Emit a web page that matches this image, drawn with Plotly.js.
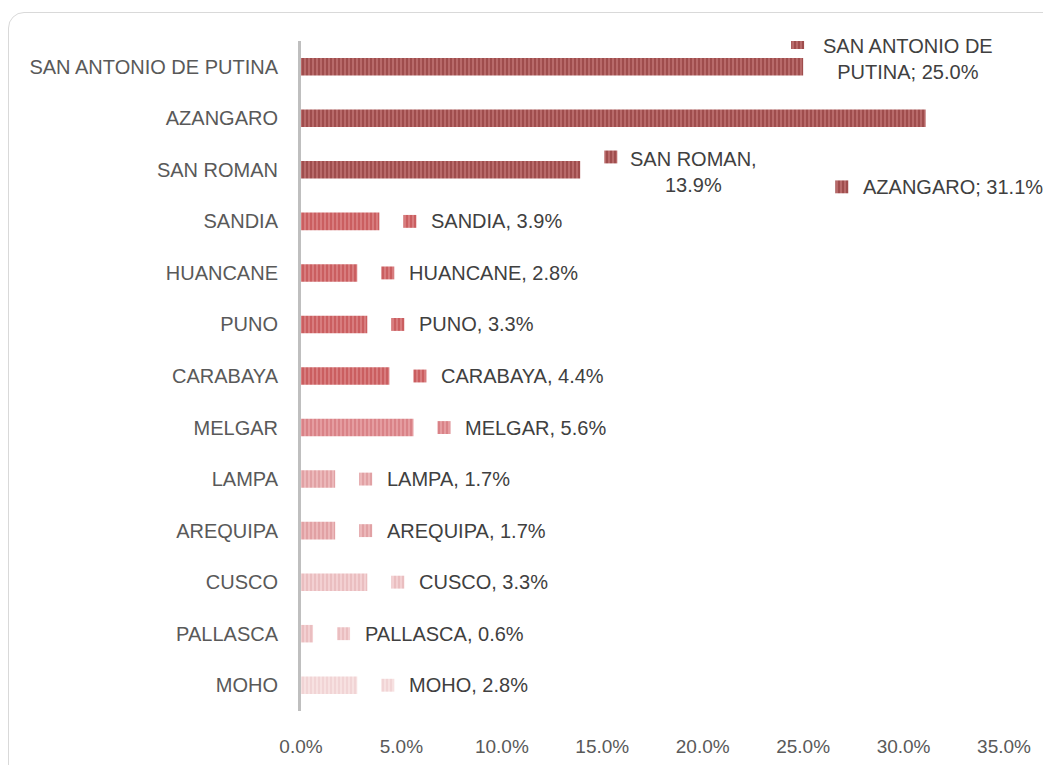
<!DOCTYPE html>
<html>
<head>
<meta charset="utf-8">
<script src="https://cdn.plot.ly/plotly-3.0.1.min.js"></script>
<style>
  html, body { margin: 0; padding: 0; background: #ffffff; overflow: hidden; }
  #frame { position: absolute; left: 8px; top: 12px; width: 1100px; height: 800px;
           border: 1.5px solid #d9d9d9; border-radius: 16px; box-sizing: border-box; }
  #chart { position: absolute; left: 0; top: 0; width: 1043px; height: 765px; }
</style>
</head>
<body>
<div id="frame"></div>
<div id="chart"></div>
<script>
// ---- data ----
const categories = ["SAN ANTONIO DE PUTINA", "AZANGARO", "SAN ROMAN", "SANDIA", "HUANCANE", "PUNO",
                    "CARABAYA", "MELGAR", "LAMPA", "AREQUIPA", "CUSCO", "PALLASCA", "MOHO"];
const values = [25.0, 31.1, 13.9, 3.9, 2.8, 3.3, 4.4, 5.6, 1.7, 1.7, 3.3, 0.6, 2.8];
const labelTexts = ["SAN ANTONIO DE<br>PUTINA; 25.0%", "AZANGARO; 31.1%", "SAN ROMAN,<br>13.9%",
                    "SANDIA, 3.9%", "HUANCANE, 2.8%", "PUNO, 3.3%", "CARABAYA, 4.4%", "MELGAR, 5.6%",
                    "LAMPA, 1.7%", "AREQUIPA, 1.7%", "CUSCO, 3.3%", "PALLASCA, 0.6%", "MOHO, 2.8%"];
const xTickVals = [0, 5, 10, 15, 20, 25, 30, 35];
const xTickText = ["0.0%", "5.0%", "10.0%", "15.0%", "20.0%", "25.0%", "30.0%", "35.0%"];

// ---- styles ----
const stripeColors = ["#86302f", "#86302f", "#86302f", "#bb3f42", "#bb3f42", "#bb3f42", "#bb3f42",
                      "#cd676d", "#d68a8e", "#d68a8e", "#e2abae", "#e2abae", "#ebc8ca"];
const backColors = ["#b86a6a", "#b86a6a", "#b86a6a", "#d87c7e", "#d87c7e", "#d87c7e", "#d87c7e",
                    "#e59ca0", "#ecb8ba", "#ecb8ba", "#f3d0d2", "#f3d0d2", "#f7e1e1"];

const idx = categories.map((c, i) => i);
const pxPerPct = 703 / 35;        // plot width / range
const keyW = 13 / pxPerPct;       // legend key width (in % units)
const keyGap = 24 / pxPerPct;     // gap bar end -> key
const textGap = 50 / pxPerPct;    // gap bar end -> text

// special placements for the three large bars (label layout only)
const special = {
  0: { keyX: 24.4, keyY: -0.47, tx: 30.2, ty: -0.16, anchor: "center" },
  1: { keyX: 26.6, keyY: 2.33, tx: 27.9, ty: 2.33, anchor: "left" },
  2: { keyX: 15.1, keyY: 1.75, tx: 19.55, ty: 2.04, anchor: "center" }
};

const labelFont = { family: "Liberation Sans, Arial, sans-serif", size: 20, color: "#404040" };
const traces = [];
const annotations = [];
values.forEach((v, i) => {
  const s = special[i];
  const kx = s ? s.keyX : v + keyGap;
  const ky = s ? s.keyY : i;
  const pattern = { shape: "|", fgcolor: stripeColors[i], size: 4, solidity: 0.5, fillmode: "overlay" };
  traces.push({
    type: "bar", orientation: "h", x: [v], y: [i], width: 0.34,
    marker: { color: backColors[i], line: { width: 0 }, pattern: pattern },
    name: categories[i], hoverinfo: "x+y", showlegend: false
  });
  traces.push({
    type: "bar", orientation: "h", x: [keyW], base: [kx], y: [ky], width: 0.25,
    marker: { color: backColors[i], line: { width: 0 }, pattern: pattern },
    hoverinfo: "skip", showlegend: false
  });
  annotations.push({
    x: s ? s.tx : v + textGap, y: s ? s.ty : i, xref: "x", yref: "y", text: labelTexts[i], showarrow: false,
    xanchor: s ? s.anchor : "left", yanchor: "middle", align: s ? "center" : "left", font: labelFont
  });
});

const layout = {
  width: 1043, height: 765,
  margin: { l: 301, r: 39, t: 41, b: 54, pad: 0 },
  paper_bgcolor: "rgba(0,0,0,0)", plot_bgcolor: "rgba(0,0,0,0)",
  barmode: "overlay", showlegend: false,
  font: { family: "Liberation Sans, Arial, sans-serif", size: 19, color: "#595959" },
  xaxis: { range: [0, 35], tickvals: xTickVals, ticktext: xTickText, showgrid: false, zeroline: false,
           showline: false, ticks: "", ticklabelstandoff: 22, fixedrange: true,
           tickfont: { size: 19, color: "#595959" } },
  yaxis: { range: [12.5, -0.5], tickvals: idx, ticktext: categories, showgrid: false, zeroline: false,
           showline: true, linecolor: "#bfbfbf", linewidth: 3, ticks: "", ticklabelstandoff: 16,
           fixedrange: true, tickfont: { size: 20, color: "#595959" } },
  annotations: annotations
};

Plotly.newPlot("chart", traces, layout, { displayModeBar: false, staticPlot: true });
</script>
</body>
</html>
